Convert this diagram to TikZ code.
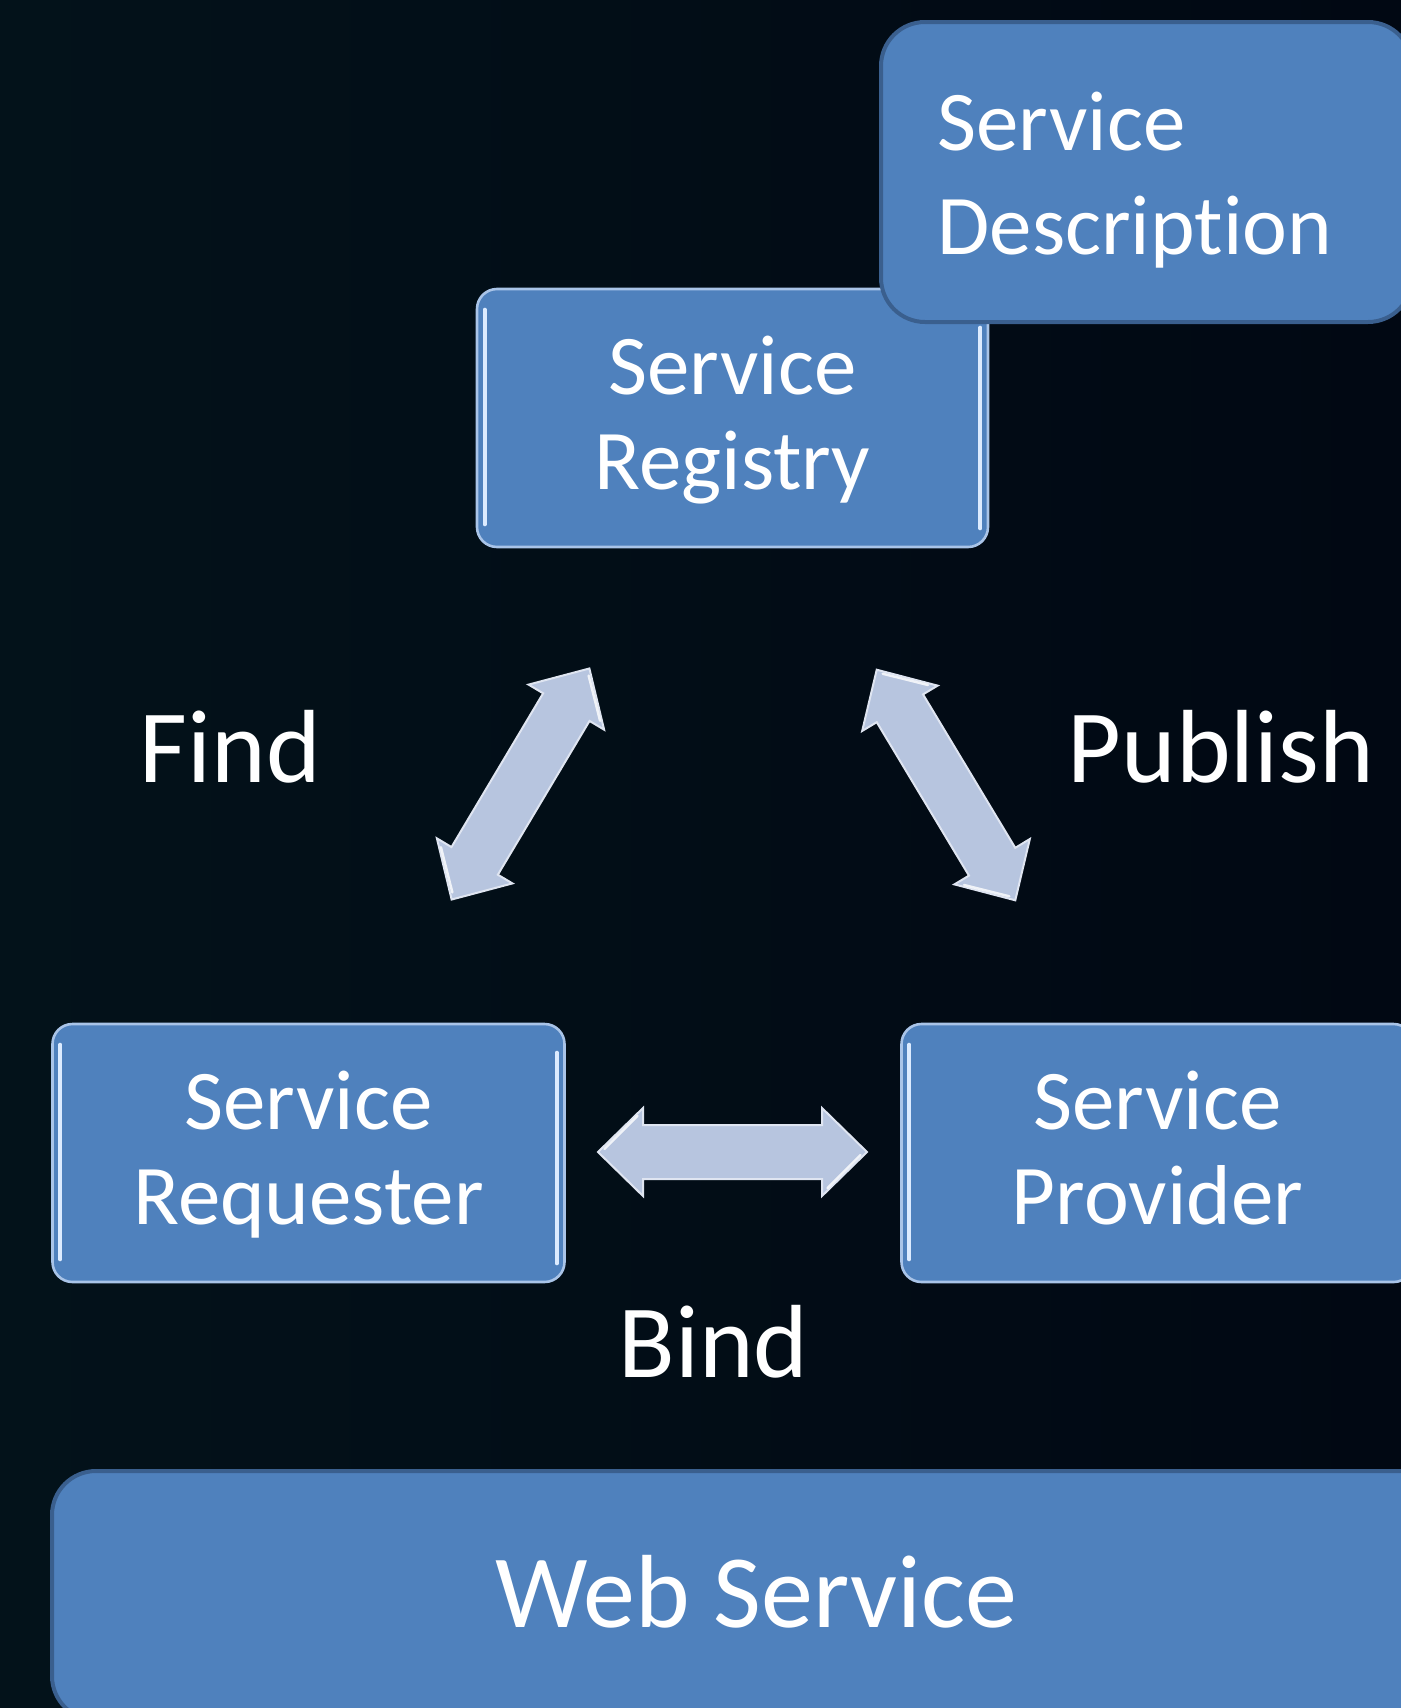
\documentclass[tikz,border=0pt]{standalone}
\usepackage{fontspec}
\setmainfont{Carlito}[RawFeature=-liga]
\usetikzlibrary{calc}
\definecolor{bgA}{HTML}{03121A}
\definecolor{bgB}{HTML}{010A17}
\definecolor{bgC}{HTML}{010813}
\definecolor{boxfill}{HTML}{4F81BD}
\definecolor{boxedge}{HTML}{3A5F8E}
\definecolor{bevedge}{HTML}{A9C4E8}
\definecolor{hilite}{HTML}{DCEBFF}
\definecolor{arrowfill}{HTML}{B7C5DF}
\begin{document}
\begin{tikzpicture}[x=0.5pt,y=-0.5pt,
  flatbox/.style={rounded corners=22pt, fill=boxfill, draw=boxedge, line width=2pt, inner sep=0pt},
  bevbox/.style={rounded corners=10pt, fill=boxfill, draw=bevedge, line width=1.3pt, inner sep=0pt,
    minimum width=256pt, minimum height=129pt},
  hl/.style={draw=hilite, line width=2pt, line cap=round},
  boxtext/.style={font=\fontsize{42.5pt}{47.5pt}\selectfont, text=white, align=center, text width=250pt, inner sep=0pt},
  desctext/.style={font=\fontsize{42.5pt}{52pt}\selectfont, text=white, align=left, text width=250pt, inner sep=0pt},
  lbl/.style={font=\fontsize{52pt}{62pt}\selectfont, text=white, inner sep=0pt},
  arrowstyle/.style={fill=arrowfill, draw=white!55!arrowfill, line width=1pt, line join=miter},
  dblarrow/.pic={
    \filldraw[arrowstyle] (-134.5,0) -- (-89.5,44) -- (-89.5,27) -- (89.5,27) -- (89.5,44)
      -- (134.5,0) -- (89.5,-44) -- (89.5,-27) -- (-89.5,-27) -- (-89.5,-44) -- cycle;
    \draw[white, line width=1.2pt, opacity=0.8, line cap=round] (-128,-3) -- (-95,-36);
    \draw[white, line width=1.2pt, opacity=0.8, line cap=round] (128,3) -- (95,36);
  }]
\useasboundingbox (0,0) rectangle (1401,1708);
\clip (0,0) rectangle (1401,1708);
\shade[left color=bgA, middle color=bgB, right color=bgC] (0,0) rectangle (1401,1708);

% Service Registry
\node[bevbox, minimum width=255.5pt] (reg) at (732.5,418) {};
\draw[hl] ($(reg.north west)+(9,22)$) -- ($(reg.south west)+(9,-24)$);
\draw[hl] ($(reg.north east)+(-9,40)$) -- ($(reg.south east)+(-9,-20)$);
\node[boxtext, anchor=base] (regtxt) at (732.5,394) {Service\\Registry};

% Service Description (on top of registry)
\node[flatbox, minimum width=265.5pt, minimum height=150pt] (desc) at (1146.5,172) {};
\node[desctext, anchor=base west] (desctxt) at (937,150) {Service\\Description};

% Service Requester
\node[bevbox] (req) at (308.5,1153) {};
\draw[hl] ($(req.north west)+(9,22)$) -- ($(req.south west)+(9,-24)$);
\draw[hl] ($(req.north east)+(-9,30)$) -- ($(req.south east)+(-9,-20)$);
\node[boxtext, anchor=base] (reqtxt) at (308.5,1129) {Service\\Requester};

% Service Provider
\node[bevbox] (prov) at (1157.5,1153) {};
\draw[hl] ($(prov.north west)+(9,22)$) -- ($(prov.south west)+(9,-24)$);
\node[boxtext, anchor=base] (provtxt) at (1157.5,1129) {Service\\Provider};

% Web Service
\node[flatbox, minimum width=704pt, minimum height=124.5pt] (web) at (756,1595.5) {};
\node[lbl, anchor=base] (webtxt) at (756,1627) {Web Service};

% Block arrows
\pic[rotate=59.2] (findarrow) at (520.5,784) {dblarrow};
\pic[rotate=-59.0] (pubarrow) at (946,785) {dblarrow};
\pic (bindarrow) at (732.5,1152) {dblarrow};

% Labels
\node[lbl, anchor=base] (find) at (230.4,782) {Find};
\node[lbl, anchor=base] (publish) at (1221,782) {Publish};
\node[lbl, anchor=base] (bind) at (713.6,1377) {Bind};
\end{tikzpicture}
\end{document}
